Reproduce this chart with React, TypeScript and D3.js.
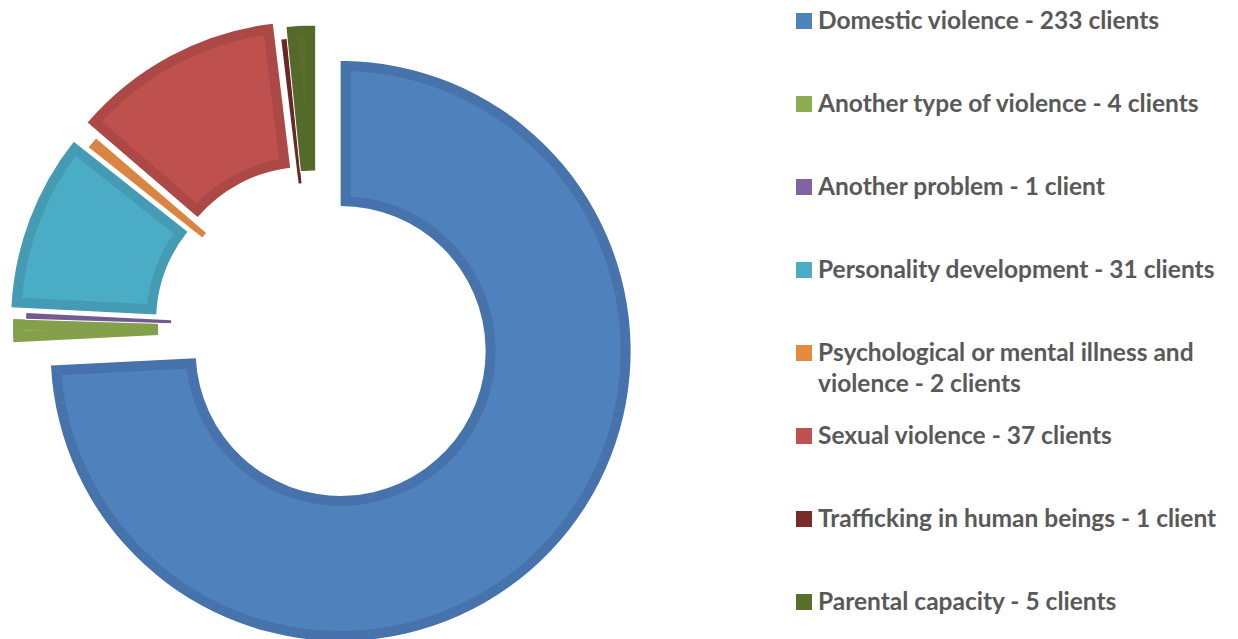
import React from "react";
import * as d3 from "d3";

const categories = [
  "Domestic violence",
  "Another type of violence",
  "Another problem",
  "Personality development",
  "Psychological or mental illness and violence",
  "Sexual violence",
  "Trafficking in human beings",
  "Parental capacity",
];
const values = [233, 4, 1, 31, 2, 37, 1, 5];
const fillColors = ["#4F81BD", "#8EAB52", "#7F64A1", "#4BACC6", "#E28A40", "#BE504D", "#772C2A", "#5A6E2C"];
const borderColors = ["#4673AB", "#84A04B", "#735A92", "#449BB3", "#D98440", "#AC4845", "#6A2725", "#55692A"];
const explodeOffsets = [34, 13, 0, 16, 0, 18, 0, 12];

const W = 1238;
const H = 639;
const cx = 316;
const cy = 327.5;
const outerR = 290;
const innerR = 145;

function wrap(text: string, maxChars: number): string[] {
  const words = text.split(" ");
  const lines: string[] = [];
  let cur = "";
  for (const w of words) {
    const next = cur ? cur + " " + w : w;
    if (next.length > maxChars && cur) {
      lines.push(cur);
      cur = w;
    } else cur = next;
  }
  if (cur) lines.push(cur);
  return lines;
}

export default function App() {
  const pie = d3
    .pie<number>()
    .sort(null)
    .value((d) => d)
    .startAngle(0)
    .endAngle(2 * Math.PI);
  const arcs = pie(values);
  const arcGen = d3.arc<d3.PieArcDatum<number>>().innerRadius(innerR).outerRadius(outerR);

  const legendX = 796;
  const legendTop = 29;
  const legendStep = 83;

  return (
    <svg
      width={W}
      height={H}
      style={{ position: "absolute", left: 0, top: 0, background: "#fff" }}
      fontFamily="Lato, 'Open Sans', sans-serif"
    >
      <defs>
        {arcs.map((a, i) => (
          <clipPath id={`clip${i}`} key={i}>
            <path d={arcGen(a) || ""} />
          </clipPath>
        ))}
      </defs>
      <g transform={`translate(${cx},${cy})`}>
        {arcs.map((a, i) => {
          const mid = (a.startAngle + a.endAngle) / 2;
          const dx = Math.sin(mid) * explodeOffsets[i];
          const dy = -Math.cos(mid) * explodeOffsets[i];
          const d = arcGen(a) || "";
          return (
            <g key={i} transform={`translate(${dx},${dy})`}>
              <path d={d} fill={fillColors[i]} stroke="#ffffff" strokeWidth={2} strokeLinejoin="miter" />
              <path
                d={d}
                fill="none"
                stroke={borderColors[i]}
                strokeWidth={20}
                clipPath={`url(#clip${i})`}
              />
            </g>
          );
        })}
      </g>
      <g>
        {categories.map((c, i) => {
          const v = values[i];
          const label = `${c} - ${v} client${v === 1 ? "" : "s"}`;
          const lines = wrap(label, 40);
          const baseY = legendTop + i * legendStep;
          return (
            <g key={i}>
              <rect x={legendX} y={baseY - 16} width={16} height={16} fill={fillColors[i]} />
              <text x={818} y={baseY} fontSize={24.5} fontWeight="bold" fill="#595959">
                {lines.map((l, j) => (
                  <tspan key={j} x={818} y={baseY + j * 31}>
                    {l}
                  </tspan>
                ))}
              </text>
            </g>
          );
        })}
      </g>
    </svg>
  );
}
